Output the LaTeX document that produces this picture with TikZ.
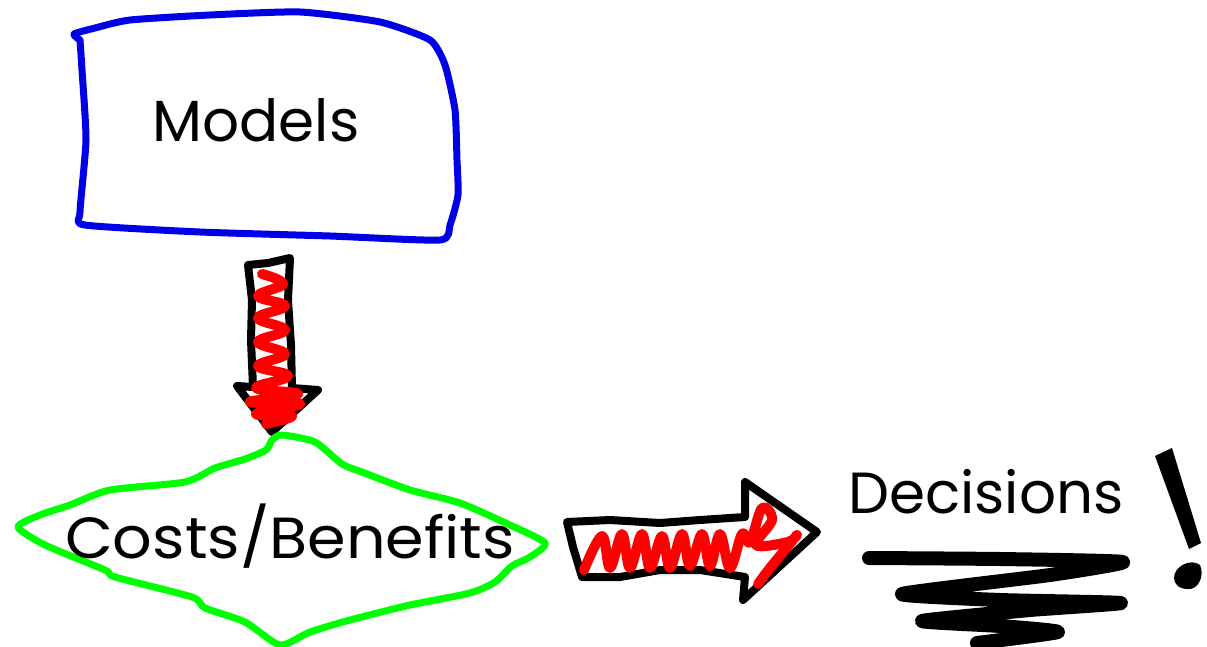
\documentclass[tikz,border=0pt]{standalone}
\usepackage{fontspec}
\setmainfont{Poppins}
\begin{document}
\begin{tikzpicture}[x=1pt,y=-1pt,
  sketch/.style={line join=round,line cap=round},
  boxline/.style={sketch,draw={rgb,255:red,0;green,0;blue,230},line width=7pt},
  diamline/.style={sketch,draw={rgb,255:red,0;green,255;blue,0},line width=7pt},
  arrowline/.style={sketch,draw=black,line width=8pt,fill=white},
  scribble/.style={sketch,draw=red,line width=10pt},
  ink/.style={sketch,draw=black,line width=14pt},
  label/.style={font=\fontsize{58}{60}\selectfont,text=black,inner sep=0pt}]
\useasboundingbox (0,0) rectangle (1207,647);
\fill[white] (0,0) rectangle (1207,647);

% wobbly box around the first label
\draw[boxline] plot[smooth,tension=0.35] coordinates {
  (80,40) (74,34) (95,28) (130,20) (210,15) (300,12) (380,22) (430,40)
  (445,65) (455,110) (457,160) (458,195) (450,225) (440,240)
  (330,236) (200,232) (85,225) (80,212) (86,140) (82,70) (80,40)};
\node[label] (models) at (256,120) {Models};

% hand-drawn downward arrow
\draw[arrowline] plot[sharp cycle] coordinates {
  (248,265) (268,263) (290,258) (288,300) (291,345) (292,388) (318,390)
  (272,432) (237,386) (253,387) (251,340) (252,300)};
\draw[scribble] plot[smooth,tension=0.7] coordinates {
  (262,274) (283,284) (258,296) (285,306) (258,318) (285,330) (258,342)
  (285,354) (258,366) (288,376) (256,388) (298,394)
  (250,402) (300,404) (256,414) (292,416) (266,424)};

% wobbly diamond around the second label
\draw[diamline] plot[smooth cycle,tension=0.4] coordinates {
  (18,527) (40,515) (70,505) (110,490) (185,482) (215,468) (245,459)
  (266,450) (272,440) (282,435) (315,442) (342,464) (362,472) (410,490)
  (460,503) (510,525) (545,543) (530,557) (512,566) (495,582) (470,593)
  (410,605) (350,620) (310,632) (280,645) (245,622) (205,608) (192,597)
  (115,577) (105,570) (45,545)};
\node[label,xscale=1.07] (costs) at (290,536) {Costs/Benefits};

% hand-drawn rightward arrow
\draw[arrowline] plot[sharp cycle] coordinates {
  (567,522) (610,520) (660,523) (700,520) (745,517) (745,482) (817,532)
  (743,600) (745,577) (700,570) (660,570) (620,577) (582,577) (573,547)};
\draw[scribble] plot[smooth,tension=0.6] coordinates {
  (584,570) (602,536) (610,568) (622,534) (630,568) (642,534) (650,568)
  (662,536) (670,568) (682,534) (690,566) (702,534) (710,566) (720,534)
  (730,568) (742,534) (750,542) (762,508) (772,520) (756,545) (788,542)
  (796,536) (770,568) (758,584)};

% third label with underline scribble and exclamation mark
\node[label] (decisions) at (986,492) {Decisions};
\draw[ink] plot[smooth,tension=0.3] coordinates {
  (869,558) (1000,559) (1123,562) (1050,575) (902,594) (1000,600) (1121,603)
  (1030,610) (922,621) (1000,626) (1058,632) (977,643)};
\fill[black] (1155,456) -- (1172,448) -- (1201,543) -- (1189,549) -- cycle;
\fill[black] (1174,578) .. controls (1174,566) and (1191,558) .. (1200,565)
  .. controls (1205,576) and (1198,590) .. (1188,589)
  .. controls (1179,589) and (1174,584) .. (1174,578) -- cycle;
\end{tikzpicture}
\end{document}
